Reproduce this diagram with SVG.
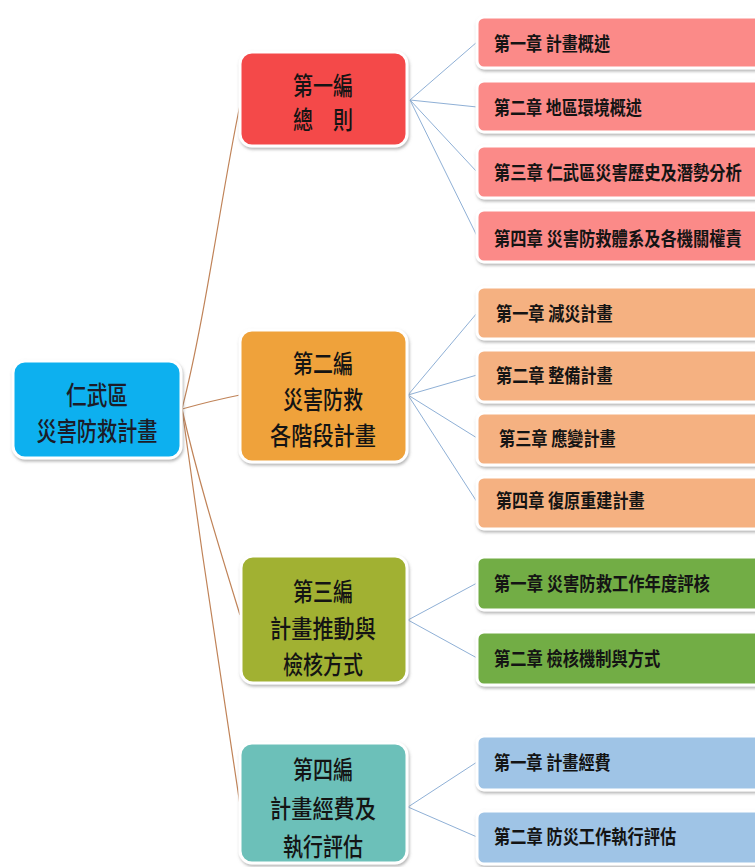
<svg xmlns="http://www.w3.org/2000/svg" width="755" height="867" viewBox="0 0 755 867">
<defs>
<filter id="sh" x="-10%" y="-10%" width="125%" height="130%">
<feDropShadow dx="1" dy="2" stdDeviation="1.8" flood-color="#7a7a7a" flood-opacity="0.55"/>
</filter>
<style>
.box{stroke:#fff;stroke-width:3;filter:url(#sh)}
.t{font-family:"Noto Sans CJK TC","Noto Sans CJK SC",sans-serif;fill:#141414;dominant-baseline:central}
.pt{font-size:25px;font-weight:500;text-anchor:middle}
.ct{font-size:19px;font-weight:700}
.rt{font-size:26px;font-weight:500;text-anchor:middle;fill:#1c1c28}
.br{fill:none;stroke:#c08358;stroke-width:1.2}
.bl{fill:none;stroke:#8fb0d6;stroke-width:1}
.c1{fill:#fb8a88}.c2{fill:#f5b181}.c3{fill:#72ad45}.c4{fill:#9fc4e6}
</style>
</defs>
<rect width="755" height="867" fill="#fff"/>
<g id="connectors">
<path class="br" d="M182,409 C205,320 222,190 240,105"/>
<path class="br" d="M182,409 C200,404 220,399 240,395"/>
<path class="br" d="M182,409 C198,480 220,550 240,615"/>
<path class="br" d="M182,409 C200,540 222,690 240,805"/>
<path class="bl" d="M410,100 L477,42 M410,100 L477,107 M410,100 L477,172 M410,100 L477,236"/>
<path class="bl" d="M408,395 L477,313 M408,395 L477,375 M408,395 L477,438 M408,395 L477,502"/>
<path class="bl" d="M408,620 L477,583 M408,620 L477,658"/>
<path class="bl" d="M408,807 L477,762 M408,807 L477,837"/>
</g>
<g id="root">
<rect class="box" x="13" y="361" width="168" height="97" rx="12" fill="#0db0ef"/>
<text class="t rt" x="97" y="393" textLength="62" lengthAdjust="spacingAndGlyphs">仁武區</text>
<text class="t rt" x="97" y="429" textLength="121" lengthAdjust="spacingAndGlyphs">災害防救計畫</text>
</g>
<g id="part1">
<rect class="box" x="240" y="52" width="167" height="94" rx="12" fill="#f4484a"/>
<text class="t pt" x="323" y="84" textLength="60" lengthAdjust="spacingAndGlyphs">第一編</text>
<text class="t pt" x="323" y="118" textLength="60" lengthAdjust="spacingAndGlyphs">總　則</text>
</g>
<g id="part2">
<rect class="box" x="240" y="330" width="167" height="132" rx="12" fill="#efa23b"/>
<text class="t pt" x="323" y="362" textLength="60" lengthAdjust="spacingAndGlyphs">第二編</text>
<text class="t pt" x="323" y="398" textLength="80" lengthAdjust="spacingAndGlyphs">災害防救</text>
<text class="t pt" x="323" y="434" textLength="106" lengthAdjust="spacingAndGlyphs">各階段計畫</text>
</g>
<g id="part3">
<rect class="box" x="241" y="556" width="166" height="127" rx="12" fill="#a1b132"/>
<text class="t pt" x="323" y="590" textLength="60" lengthAdjust="spacingAndGlyphs">第三編</text>
<text class="t pt" x="323" y="627" textLength="106" lengthAdjust="spacingAndGlyphs">計畫推動與</text>
<text class="t pt" x="323" y="663" textLength="80" lengthAdjust="spacingAndGlyphs">檢核方式</text>
</g>
<g id="part4">
<rect class="box" x="240" y="743" width="167" height="120" rx="12" fill="#6cc0b9"/>
<text class="t pt" x="323" y="768" textLength="60" lengthAdjust="spacingAndGlyphs">第四編</text>
<text class="t pt" x="323" y="807" textLength="106" lengthAdjust="spacingAndGlyphs">計畫經費及</text>
<text class="t pt" x="323" y="845" textLength="80" lengthAdjust="spacingAndGlyphs">執行評估</text>
</g>
<g id="p1c1"><rect class="box c1" x="477" y="17" width="290" height="51" rx="7"/><text class="t ct" transform="translate(494,43) scale(0.84,1)" textLength="138" lengthAdjust="spacingAndGlyphs">第一章 計畫概述</text></g>
<g id="p1c2"><rect class="box c1" x="477" y="81" width="290" height="51" rx="7"/><text class="t ct" transform="translate(494,107) scale(0.84,1)" textLength="176" lengthAdjust="spacingAndGlyphs">第二章 地區環境概述</text></g>
<g id="p1c3"><rect class="box c1" x="477" y="146" width="290" height="52" rx="7"/><text class="t ct" transform="translate(494,172) scale(0.84,1)" textLength="295" lengthAdjust="spacingAndGlyphs">第三章 仁武區災害歷史及潛勢分析</text></g>
<g id="p1c4"><rect class="box c1" x="477" y="210" width="290" height="52" rx="7"/><text class="t ct" transform="translate(494,238) scale(0.84,1)" textLength="295" lengthAdjust="spacingAndGlyphs">第四章 災害防救體系及各機關權責</text></g>
<g id="p2c1"><rect class="box c2" x="477" y="287" width="290" height="52" rx="7"/><text class="t ct" transform="translate(496,313) scale(0.84,1)" textLength="139" lengthAdjust="spacingAndGlyphs">第一章 減災計畫</text></g>
<g id="p2c2"><rect class="box c2" x="477" y="350" width="290" height="52" rx="7"/><text class="t ct" transform="translate(496,375) scale(0.84,1)" textLength="139" lengthAdjust="spacingAndGlyphs">第二章 整備計畫</text></g>
<g id="p2c3"><rect class="box c2" x="477" y="413" width="290" height="52" rx="7"/><text class="t ct" transform="translate(499,438) scale(0.84,1)" textLength="139" lengthAdjust="spacingAndGlyphs">第三章 應變計畫</text></g>
<g id="p2c4"><rect class="box c2" x="477" y="477" width="290" height="52" rx="7"/><text class="t ct" transform="translate(496,500) scale(0.84,1)" textLength="177" lengthAdjust="spacingAndGlyphs">第四章 復原重建計畫</text></g>
<g id="p3c1"><rect class="box c3" x="477" y="557" width="290" height="53" rx="7"/><text class="t ct" transform="translate(494,583) scale(0.84,1)" textLength="257" lengthAdjust="spacingAndGlyphs">第一章 災害防救工作年度評核</text></g>
<g id="p3c2"><rect class="box c3" x="477" y="632" width="290" height="53" rx="7"/><text class="t ct" transform="translate(494,658) scale(0.84,1)" textLength="198" lengthAdjust="spacingAndGlyphs">第二章 檢核機制與方式</text></g>
<g id="p4c1"><rect class="box c4" x="477" y="736" width="290" height="54" rx="7"/><text class="t ct" transform="translate(494,762) scale(0.84,1)" textLength="139" lengthAdjust="spacingAndGlyphs">第一章 計畫經費</text></g>
<g id="p4c2"><rect class="box c4" x="477" y="811" width="290" height="53" rx="7"/><text class="t ct" transform="translate(494,836) scale(0.84,1)" textLength="217" lengthAdjust="spacingAndGlyphs">第二章 防災工作執行評估</text></g>
</svg>
